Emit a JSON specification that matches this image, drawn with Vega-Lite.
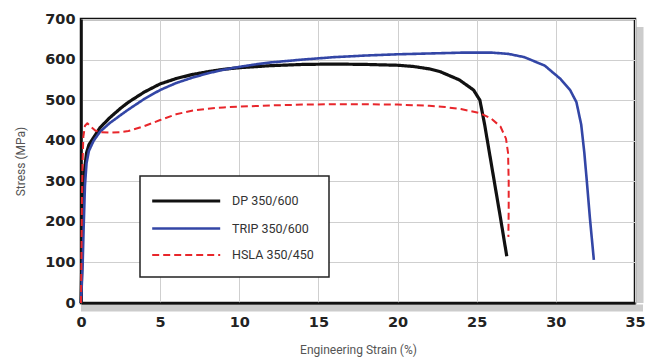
{
  "$schema": "https://vega.github.io/schema/vega-lite/v6.json",
  "width": 554,
  "height": 284,
  "autosize": {"type": "none"},
  "padding": {"left": 81, "top": 19, "right": 26, "bottom": 59},
  "background": "white",
  "config": {
    "view": {"stroke": "#111", "strokeWidth": 2.5},
    "font": "Roboto"
  },
  "datasets": {
    "curves": [
      {"series": "DP 350/600", "i": 0, "strain": 0, "stress": 0},
      {"series": "DP 350/600", "i": 1, "strain": 0.05, "stress": 100},
      {"series": "DP 350/600", "i": 2, "strain": 0.1, "stress": 220},
      {"series": "DP 350/600", "i": 3, "strain": 0.2, "stress": 320},
      {"series": "DP 350/600", "i": 4, "strain": 0.35, "stress": 370},
      {"series": "DP 350/600", "i": 5, "strain": 0.5, "stress": 390},
      {"series": "DP 350/600", "i": 6, "strain": 0.8, "stress": 408},
      {"series": "DP 350/600", "i": 7, "strain": 1.2, "stress": 432},
      {"series": "DP 350/600", "i": 8, "strain": 1.8, "stress": 456},
      {"series": "DP 350/600", "i": 9, "strain": 2.5, "stress": 480},
      {"series": "DP 350/600", "i": 10, "strain": 3, "stress": 495},
      {"series": "DP 350/600", "i": 11, "strain": 4, "stress": 520},
      {"series": "DP 350/600", "i": 12, "strain": 5, "stress": 540},
      {"series": "DP 350/600", "i": 13, "strain": 6, "stress": 553},
      {"series": "DP 350/600", "i": 14, "strain": 7, "stress": 563},
      {"series": "DP 350/600", "i": 15, "strain": 8, "stress": 570},
      {"series": "DP 350/600", "i": 16, "strain": 9, "stress": 576},
      {"series": "DP 350/600", "i": 17, "strain": 10, "stress": 580},
      {"series": "DP 350/600", "i": 18, "strain": 12, "stress": 585},
      {"series": "DP 350/600", "i": 19, "strain": 14, "stress": 588},
      {"series": "DP 350/600", "i": 20, "strain": 16, "stress": 589},
      {"series": "DP 350/600", "i": 21, "strain": 18, "stress": 588},
      {"series": "DP 350/600", "i": 22, "strain": 20, "stress": 586},
      {"series": "DP 350/600", "i": 23, "strain": 21, "stress": 583},
      {"series": "DP 350/600", "i": 24, "strain": 22, "stress": 577},
      {"series": "DP 350/600", "i": 25, "strain": 22.7, "stress": 570},
      {"series": "DP 350/600", "i": 26, "strain": 23.9, "stress": 550},
      {"series": "DP 350/600", "i": 27, "strain": 24.8, "stress": 525},
      {"series": "DP 350/600", "i": 28, "strain": 25.2, "stress": 500},
      {"series": "DP 350/600", "i": 29, "strain": 25.5, "stress": 440},
      {"series": "DP 350/600", "i": 30, "strain": 26.0, "stress": 325},
      {"series": "DP 350/600", "i": 31, "strain": 26.5, "stress": 210},
      {"series": "DP 350/600", "i": 32, "strain": 26.9, "stress": 115},

      {"series": "TRIP 350/600", "i": 0, "strain": 0, "stress": 0},
      {"series": "TRIP 350/600", "i": 1, "strain": 0.1, "stress": 90},
      {"series": "TRIP 350/600", "i": 2, "strain": 0.17, "stress": 190},
      {"series": "TRIP 350/600", "i": 3, "strain": 0.25, "stress": 290},
      {"series": "TRIP 350/600", "i": 4, "strain": 0.35, "stress": 345},
      {"series": "TRIP 350/600", "i": 5, "strain": 0.5, "stress": 375},
      {"series": "TRIP 350/600", "i": 6, "strain": 0.8, "stress": 400},
      {"series": "TRIP 350/600", "i": 7, "strain": 1.2, "stress": 422},
      {"series": "TRIP 350/600", "i": 8, "strain": 1.8, "stress": 443},
      {"series": "TRIP 350/600", "i": 9, "strain": 2.5, "stress": 463},
      {"series": "TRIP 350/600", "i": 10, "strain": 3, "stress": 477},
      {"series": "TRIP 350/600", "i": 11, "strain": 4, "stress": 503},
      {"series": "TRIP 350/600", "i": 12, "strain": 5, "stress": 525},
      {"series": "TRIP 350/600", "i": 13, "strain": 6, "stress": 542},
      {"series": "TRIP 350/600", "i": 14, "strain": 7, "stress": 555},
      {"series": "TRIP 350/600", "i": 15, "strain": 8, "stress": 566},
      {"series": "TRIP 350/600", "i": 16, "strain": 9, "stress": 575},
      {"series": "TRIP 350/600", "i": 17, "strain": 10, "stress": 582},
      {"series": "TRIP 350/600", "i": 18, "strain": 11, "stress": 588},
      {"series": "TRIP 350/600", "i": 19, "strain": 12, "stress": 593},
      {"series": "TRIP 350/600", "i": 20, "strain": 14, "stress": 600},
      {"series": "TRIP 350/600", "i": 21, "strain": 16, "stress": 606},
      {"series": "TRIP 350/600", "i": 22, "strain": 18, "stress": 610},
      {"series": "TRIP 350/600", "i": 23, "strain": 20, "stress": 613},
      {"series": "TRIP 350/600", "i": 24, "strain": 22, "stress": 615},
      {"series": "TRIP 350/600", "i": 25, "strain": 24, "stress": 617},
      {"series": "TRIP 350/600", "i": 26, "strain": 26, "stress": 617},
      {"series": "TRIP 350/600", "i": 27, "strain": 27, "stress": 614},
      {"series": "TRIP 350/600", "i": 28, "strain": 28, "stress": 606},
      {"series": "TRIP 350/600", "i": 29, "strain": 28.5, "stress": 598},
      {"series": "TRIP 350/600", "i": 30, "strain": 29.3, "stress": 585},
      {"series": "TRIP 350/600", "i": 31, "strain": 30.3, "stress": 552},
      {"series": "TRIP 350/600", "i": 32, "strain": 30.9, "stress": 525},
      {"series": "TRIP 350/600", "i": 33, "strain": 31.3, "stress": 495},
      {"series": "TRIP 350/600", "i": 34, "strain": 31.6, "stress": 440},
      {"series": "TRIP 350/600", "i": 35, "strain": 31.8, "stress": 370},
      {"series": "TRIP 350/600", "i": 36, "strain": 31.95, "stress": 303},
      {"series": "TRIP 350/600", "i": 37, "strain": 32.15, "stress": 210},
      {"series": "TRIP 350/600", "i": 38, "strain": 32.4, "stress": 106},

      {"series": "HSLA 350/450", "i": 0, "strain": 0, "stress": 0},
      {"series": "HSLA 350/450", "i": 1, "strain": 0.03, "stress": 120},
      {"series": "HSLA 350/450", "i": 2, "strain": 0.06, "stress": 260},
      {"series": "HSLA 350/450", "i": 3, "strain": 0.1, "stress": 350},
      {"series": "HSLA 350/450", "i": 4, "strain": 0.15, "stress": 410},
      {"series": "HSLA 350/450", "i": 5, "strain": 0.25, "stress": 437},
      {"series": "HSLA 350/450", "i": 6, "strain": 0.4, "stress": 443},
      {"series": "HSLA 350/450", "i": 7, "strain": 0.6, "stress": 435},
      {"series": "HSLA 350/450", "i": 8, "strain": 0.9, "stress": 425},
      {"series": "HSLA 350/450", "i": 9, "strain": 1.3, "stress": 421},
      {"series": "HSLA 350/450", "i": 10, "strain": 1.8, "stress": 420},
      {"series": "HSLA 350/450", "i": 11, "strain": 2.5, "stress": 421},
      {"series": "HSLA 350/450", "i": 12, "strain": 3, "stress": 424},
      {"series": "HSLA 350/450", "i": 13, "strain": 4, "stress": 436},
      {"series": "HSLA 350/450", "i": 14, "strain": 5, "stress": 451},
      {"series": "HSLA 350/450", "i": 15, "strain": 6, "stress": 465},
      {"series": "HSLA 350/450", "i": 16, "strain": 7, "stress": 474},
      {"series": "HSLA 350/450", "i": 17, "strain": 8, "stress": 479},
      {"series": "HSLA 350/450", "i": 18, "strain": 9, "stress": 482},
      {"series": "HSLA 350/450", "i": 19, "strain": 10, "stress": 484},
      {"series": "HSLA 350/450", "i": 20, "strain": 12, "stress": 487},
      {"series": "HSLA 350/450", "i": 21, "strain": 14, "stress": 489},
      {"series": "HSLA 350/450", "i": 22, "strain": 16, "stress": 490},
      {"series": "HSLA 350/450", "i": 23, "strain": 18, "stress": 490},
      {"series": "HSLA 350/450", "i": 24, "strain": 20, "stress": 489},
      {"series": "HSLA 350/450", "i": 25, "strain": 22, "stress": 486},
      {"series": "HSLA 350/450", "i": 26, "strain": 23, "stress": 483},
      {"series": "HSLA 350/450", "i": 27, "strain": 24, "stress": 478},
      {"series": "HSLA 350/450", "i": 28, "strain": 25.2, "stress": 468},
      {"series": "HSLA 350/450", "i": 29, "strain": 25.9, "stress": 455},
      {"series": "HSLA 350/450", "i": 30, "strain": 26.5, "stress": 435},
      {"series": "HSLA 350/450", "i": 31, "strain": 26.85, "stress": 405},
      {"series": "HSLA 350/450", "i": 32, "strain": 26.98, "stress": 370},
      {"series": "HSLA 350/450", "i": 33, "strain": 27.02, "stress": 300},
      {"series": "HSLA 350/450", "i": 34, "strain": 27.02, "stress": 230},
      {"series": "HSLA 350/450", "i": 35, "strain": 27.0, "stress": 163}
    ]
  },
  "layer": [
    {
      "data": {"values": [{"x": 35}]},
      "mark": {"type": "rule", "color": "#9a9a9a", "opacity": 0.5, "strokeWidth": 7, "xOffset": 5, "y2Offset": 8, "yOffset": 8},
      "encoding": {
        "x": {"field": "x", "type": "quantitative", "scale": {"domain": [0, 35]}}
      }
    },
    {
      "data": {"values": [{"y": 0}]},
      "mark": {"type": "rule", "color": "#9a9a9a", "opacity": 0.5, "strokeWidth": 7, "yOffset": 5, "xOffset": 8, "x2Offset": 8},
      "encoding": {
        "y": {"field": "y", "type": "quantitative", "scale": {"domain": [0, 700]}}
      }
    },
    {
      "data": {"name": "curves"},
      "mark": {"type": "line", "strokeCap": "butt", "strokeJoin": "round"},
      "encoding": {
        "x": {
          "field": "strain", "type": "quantitative",
          "scale": {"domain": [0, 35], "nice": false},
          "axis": {
            "title": "Engineering Strain (%)",
            "values": [0, 5, 10, 15, 20, 25, 30, 35],
            "grid": true, "gridColor": "#cfcfcf", "gridWidth": 1,
            "domainColor": "#111", "domainWidth": 2.5,
            "ticks": false,
            "labelFont": "DejaVu Sans", "labelFontWeight": "bold", "labelFontSize": 14.5, "labelColor": "#222",
            "labelPadding": 12, "labelFlush": false,
            "titleFont": "Roboto", "titleFontWeight": "normal", "titleFontSize": 12, "titleColor": "#555",
            "titlePadding": 16
          }
        },
        "y": {
          "field": "stress", "type": "quantitative",
          "scale": {"domain": [0, 700], "nice": false},
          "axis": {
            "title": "Stress (MPa)",
            "values": [0, 100, 200, 300, 400, 500, 600, 700],
            "grid": true, "gridColor": "#cfcfcf", "gridWidth": 1,
            "domainColor": "#111", "domainWidth": 2.5,
            "ticks": false,
            "labelFont": "DejaVu Sans", "labelFontWeight": "bold", "labelFontSize": 14.5, "labelColor": "#222",
            "labelPadding": 6, "labelFlush": false,
            "titleFont": "Roboto", "titleFontWeight": "normal", "titleFontSize": 12, "titleColor": "#555",
            "titlePadding": 17
          }
        },
        "order": {"field": "i", "type": "quantitative"},
        "color": {
          "field": "series", "type": "nominal",
          "scale": {"domain": ["DP 350/600", "TRIP 350/600", "HSLA 350/450"], "range": ["#111111", "#3346a6", "#e8262b"]},
          "legend": {
            "title": null, "orient": "none", "legendX": 59, "legendY": 157,
            "padding": 15, "strokeColor": "#222", "fillColor": "white",
            "symbolType": "M-1.6,0H6.9", "symbolSize": 256, "symbolStrokeWidth": 2.5,
            "labelFont": "Roboto", "labelFontSize": 12.5, "labelColor": "#333",
            "labelOffset": 57, "rowPadding": 11,
            "encode": {"legend": {"update": {"strokeWidth": {"value": 1.5}}}}
          }
        },
        "strokeDash": {
          "field": "series", "type": "nominal",
          "scale": {"domain": ["DP 350/600", "TRIP 350/600", "HSLA 350/450"], "range": [[1, 0], [1, 0], [7, 4]]},
          "legend": null
        },
        "strokeWidth": {
          "field": "series", "type": "nominal",
          "scale": {"domain": ["DP 350/600", "TRIP 350/600", "HSLA 350/450"], "range": [3.2, 2, 2.6]},
          "legend": null
        }
      }
    }
  ]
}
